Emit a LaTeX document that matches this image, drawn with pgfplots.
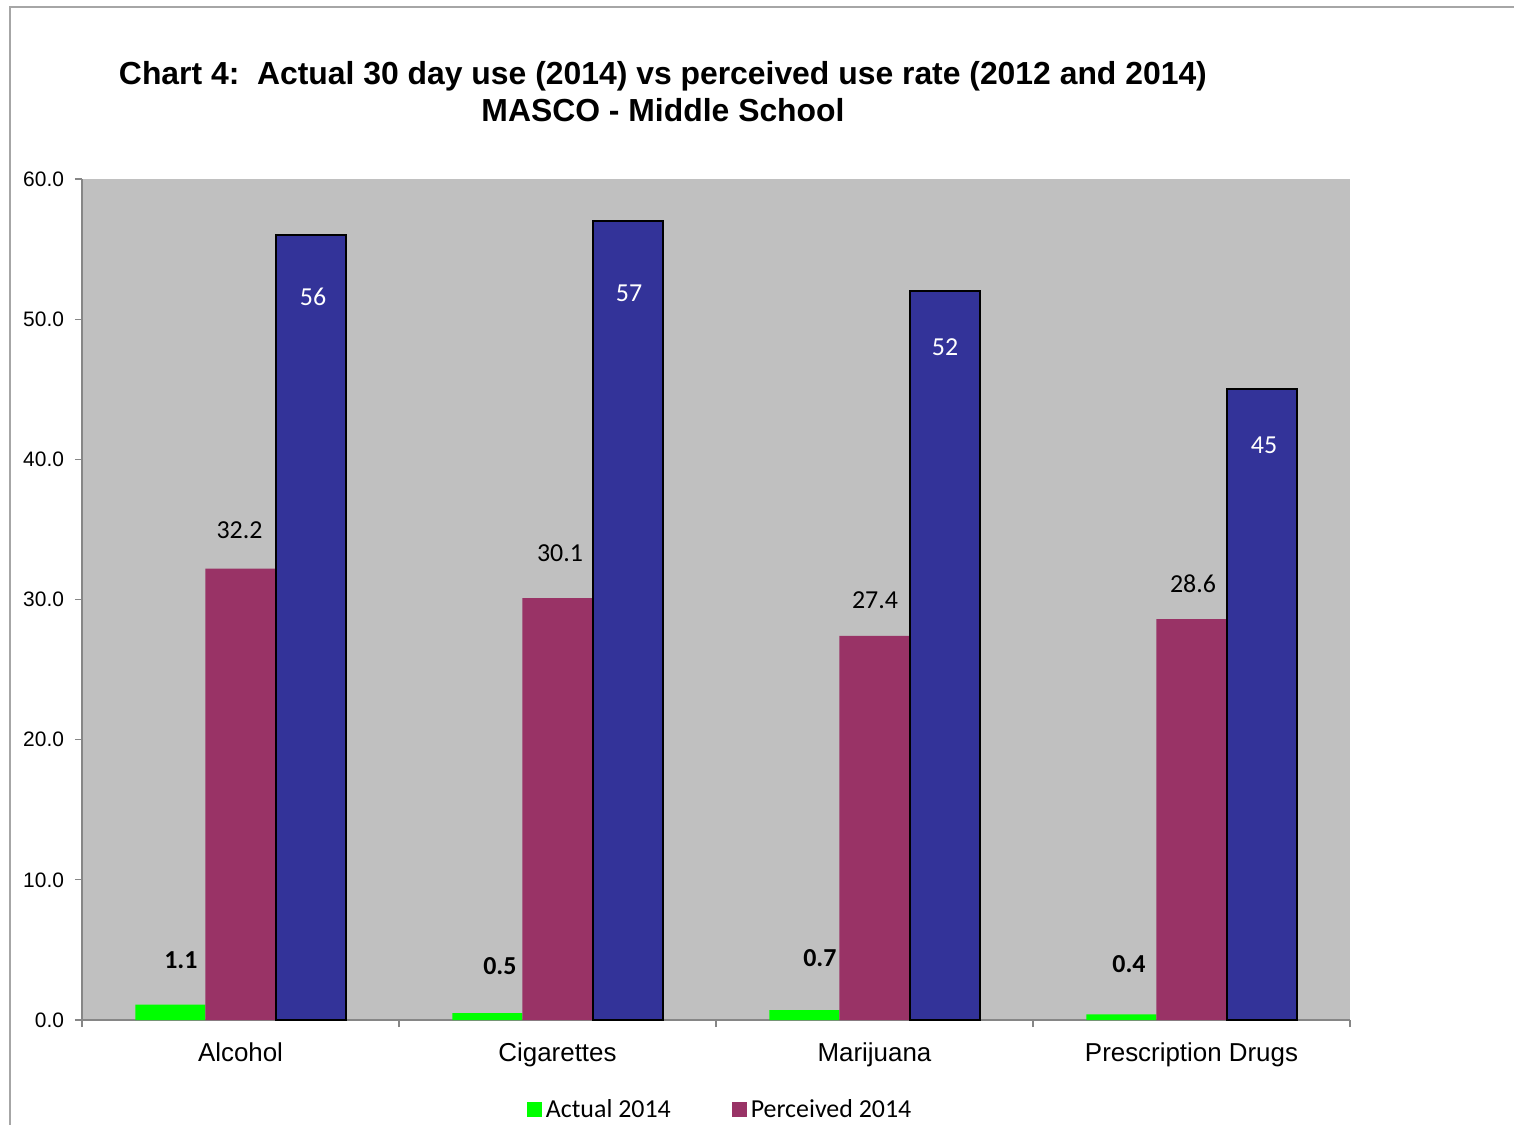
\documentclass[border=0pt]{standalone}
\usepackage{pgfplots}
\pgfplotsset{compat=1.18}
\usepackage{fontspec}
\setmainfont{Liberation Sans}
\newfontfamily\carlito{Carlito}
\definecolor{bg}{HTML}{C0C0C0}
\definecolor{actual}{HTML}{00FF00}
\definecolor{perc}{HTML}{993366}
\definecolor{prev}{HTML}{333399}
\definecolor{framegray}{HTML}{A6A6A6}
\definecolor{axgray}{HTML}{868686}
\begin{document}
\begin{tikzpicture}
\path[use as bounding box] (0bp,0bp) rectangle (757bp,-562.5bp);
\draw[framegray, line width=1bp] (5bp,-562.5bp) -- (5bp,-3.5bp) -- (757bp,-3.5bp);
\node[font=\bfseries\fontsize{16}{18.5}\selectfont, align=center] at (331.5bp,-45.75bp)
  {Chart 4:\ \ Actual 30 day use (2014) vs perceived use rate (2012 and 2014)\\MASCO - Middle School};
\begin{axis}[
  at={(41bp,-510bp)}, anchor=south west,
  scale only axis, width=634bp, height=420.5bp,
  axis background/.style={fill=bg},
  ybar, bar width=0.221,
  xmin=-0.5, xmax=3.5, ymin=0, ymax=60,
  enlargelimits=false,
  axis x line*=bottom, axis y line*=left,
  axis line style={-, draw=axgray, line width=0.6bp},
  tick style={draw=axgray, line width=0.6bp},
  tick align=outside, major tick length=3.5bp,
  xtick={-0.5,0.5,1.5,2.5,3.5},
  x tick label as interval,
  xticklabels={Alcohol,Cigarettes,Marijuana,Prescription Drugs},
  xticklabel style={font=\fontsize{13}{15}\selectfont, yshift=-4.5bp},
  ytick={0,10,...,60},
  yticklabel style={font=\fontsize{10.5}{12}\selectfont, xshift=-2bp,
    /pgf/number format/.cd, fixed, fixed zerofill, precision=1, assume math mode=true},
  legend style={at={(0.504,-0.107)}, anchor=center, draw=none, fill=none,
    font=\carlito\fontsize{13}{15}\selectfont, legend columns=2,
    /tikz/every even column/.append style={column sep=28.5bp}},
  legend image code/.code={\fill[#1] (0bp,-3.75bp) rectangle (7.5bp,3.75bp);},
]
\addplot[fill=actual, draw=none, bar shift=-0.221,
  visualization depends on={value \thisrow{dy} \as \mydy},
  visualization depends on={value \thisrow{dx} \as \mydx},
  nodes near coords={\pgfmathprintnumber[fixed,precision=1,fixed zerofill,assume math mode=true]{\pgfplotspointmeta}},
  every node near coord/.append style={font=\carlito\bfseries\fontsize{13}{15}\selectfont, text=black, anchor=center, yshift=\mydy*0.5bp, xshift=\mydx*0.5bp}]
  table[x=x, y=y] {
x y dy dx
0 1.1 44 10.5
1 0.5 47 12.5
2 0.7 52 15.5
3 0.4 50 7.5
};
\addplot[fill=perc, draw=none, bar shift=0,
  visualization depends on={value \thisrow{dy} \as \mydy},
  visualization depends on={value \thisrow{dx} \as \mydx},
  nodes near coords={\pgfmathprintnumber[fixed,precision=1,fixed zerofill,assume math mode=true]{\pgfplotspointmeta}},
  every node near coord/.append style={font=\carlito\fontsize{13}{15}\selectfont, text=black, anchor=center, yshift=\mydy*0.5bp, xshift=\mydx*0.5bp}]
  table[x=x, y=y] {
x y dy dx
0 32.2 38 -1
1 30.1 45 2.5
2 27.4 36 0.5
3 28.6 35 1.5
};
\addplot[fill=prev, draw=black, line width=1bp, bar shift=0.221,
  visualization depends on={value \thisrow{dy} \as \mydy},
  visualization depends on={value \thisrow{dx} \as \mydx},
  nodes near coords={\pgfmathprintnumber[fixed,precision=0,assume math mode=true]{\pgfplotspointmeta}},
  every node near coord/.append style={font=\carlito\fontsize{13}{15}\selectfont, text=white, anchor=center, yshift=\mydy*0.5bp, xshift=\mydx*0.5bp}]
  table[x=x, y=y] {
x y dy dx
0 56 -62 2.5
1 57 -72 1.5
2 52 -56 0.5
3 45 -56 2.5
};
\legend{Actual 2014, Perceived 2014}
\end{axis}
\end{tikzpicture}
\end{document}
